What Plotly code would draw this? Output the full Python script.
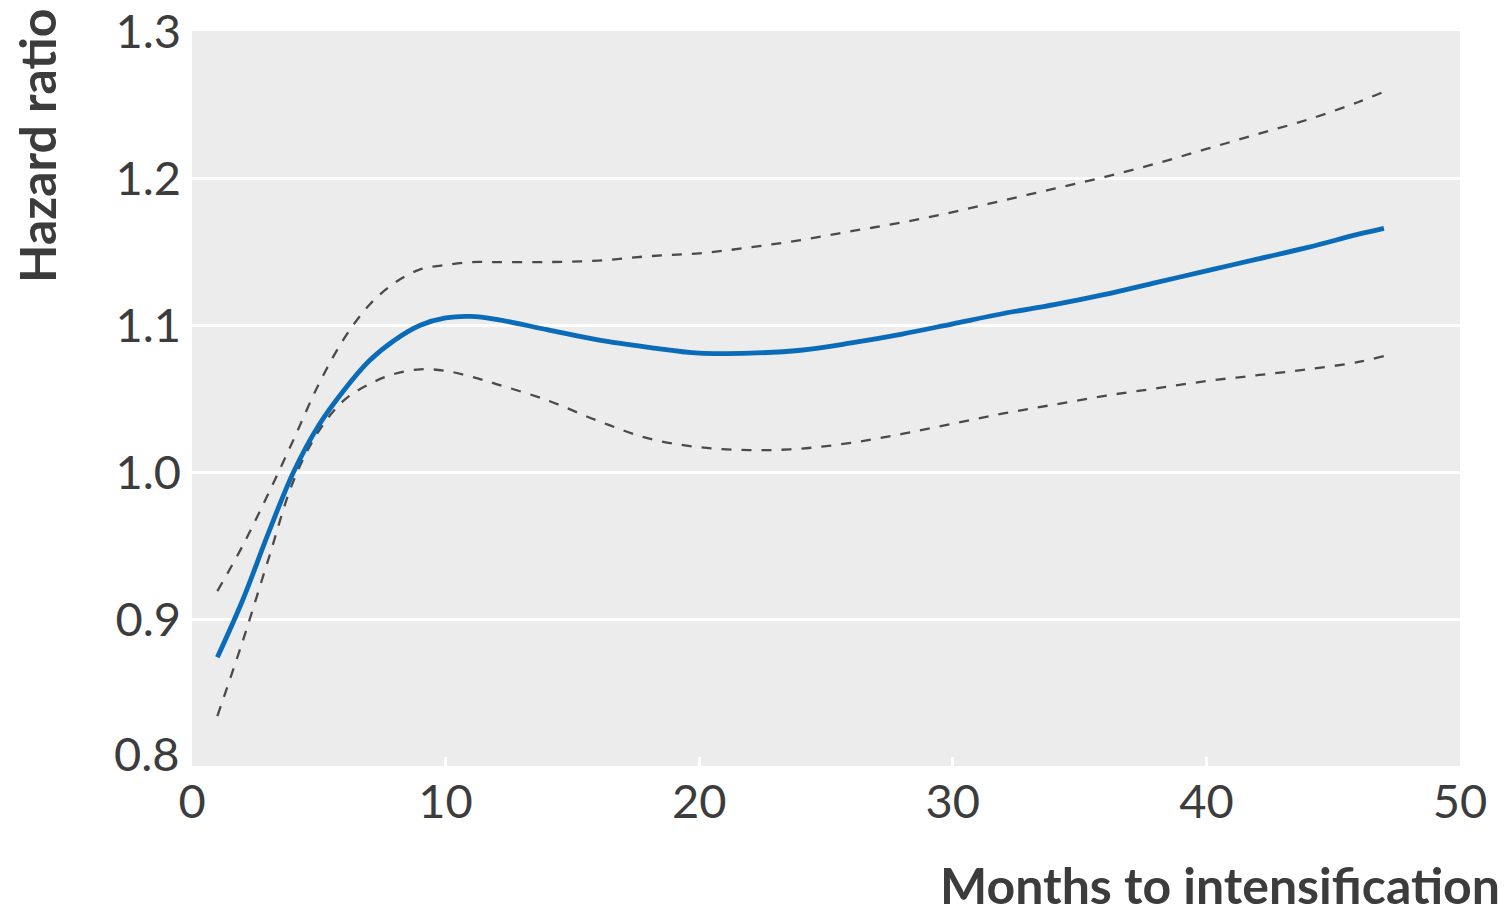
import plotly.graph_objects as go

months = [1, 2, 3, 4, 5, 6, 7, 8, 9, 10, 11, 12, 14, 16, 18, 20, 22, 24, 26, 28, 30, 32, 34, 36, 38, 40, 42, 44, 46, 47]
hazard = [0.874, 0.913, 0.958, 1.000, 1.032, 1.056, 1.076, 1.090, 1.100, 1.105, 1.106, 1.104, 1.097, 1.090, 1.085, 1.081, 1.081, 1.083, 1.088, 1.094, 1.101, 1.108, 1.114, 1.121, 1.129, 1.137, 1.145, 1.153, 1.162, 1.166]
upper_ci = [0.919, 0.950, 0.985, 1.022, 1.060, 1.091, 1.114, 1.129, 1.138, 1.141, 1.143, 1.143, 1.143, 1.144, 1.147, 1.149, 1.153, 1.158, 1.164, 1.170, 1.177, 1.185, 1.193, 1.201, 1.210, 1.220, 1.230, 1.240, 1.252, 1.259]
lower_ci = [0.834, 0.885, 0.940, 0.994, 1.028, 1.049, 1.060, 1.067, 1.070, 1.069, 1.065, 1.060, 1.049, 1.035, 1.023, 1.017, 1.015, 1.016, 1.020, 1.026, 1.033, 1.040, 1.046, 1.052, 1.057, 1.062, 1.066, 1.070, 1.075, 1.079]

x_ticks = [0, 10, 20, 30, 40, 50]
y_ticks = [0.8, 0.9, 1.0, 1.1, 1.2, 1.3]
y_tick_labels = ["0.8", "0.9", "1.0", "1.1", "1.2", "1.3"]

dash_style = dict(color="#4a4a4a", width=2.3, dash="10px,10px")

fig = go.Figure()
fig.add_trace(go.Scatter(x=months, y=upper_ci, mode="lines", line=dict(shape="spline", **dash_style), showlegend=False, hoverinfo="skip"))
fig.add_trace(go.Scatter(x=months, y=lower_ci, mode="lines", line=dict(shape="spline", **dash_style), showlegend=False, hoverinfo="skip"))
fig.add_trace(go.Scatter(x=months, y=hazard, mode="lines", line=dict(shape="spline", color="#0a6bb8", width=4.8), showlegend=False))

tick_font = dict(family="Lato", size=47, color="#3c3c3c")
title_font = dict(family="Lato", size=50, color="#3c3c3c")

# page body has an 8px margin: figure drawn at (8,8)
W, H = 1501, 906
L, R, T, B = 184, 49, 23, 148
plot_w = W - L - R

# lowest y label is drawn slightly raised (as in the original), the rest as ticks
shown_y_text = [""] + y_tick_labels[1:]

fig.update_layout(
    width=W, height=H,
    margin=dict(l=L, r=R, t=T, b=B),
    paper_bgcolor="white",
    plot_bgcolor="#ebeceb",
    xaxis=dict(
        range=[0, 50], tickvals=x_ticks, showgrid=False, zeroline=False,
        showline=False, ticks="inside", ticklen=9, tickwidth=3, tickcolor="white",
        tickfont=tick_font, ticklabelstandoff=4, automargin=False,
        ticklabeloverflow="allow",
    ),
    yaxis=dict(
        range=[0.8, 1.3003], tickvals=y_ticks, ticktext=shown_y_text,
        showgrid=True, gridcolor="white", gridwidth=3, zeroline=False,
        showline=False, ticks="", tickfont=tick_font, ticklabelstandoff=10,
        automargin=False, ticklabeloverflow="allow",
    ),
    annotations=[
        dict(text=y_tick_labels[0], xref="paper", yref="y", x=0, y=y_ticks[0],
             xanchor="right", yanchor="middle", xshift=-10, yshift=13,
             showarrow=False, font=tick_font),
        dict(text="<b>Months to intensification</b>", xref="paper", yref="paper",
             x=(1502 - 8 - L) / plot_w, y=0, xanchor="right", yanchor="top",
             yshift=-87, showarrow=False, font=title_font),
        dict(text="<b>Hazard ratio</b>", xref="paper", yref="paper",
             x=0, y=1, xanchor="left", yanchor="top", textangle=-90,
             xshift=-187, yshift=24, showarrow=False, font=title_font),
    ],
)

fig.write_html("out.html")
